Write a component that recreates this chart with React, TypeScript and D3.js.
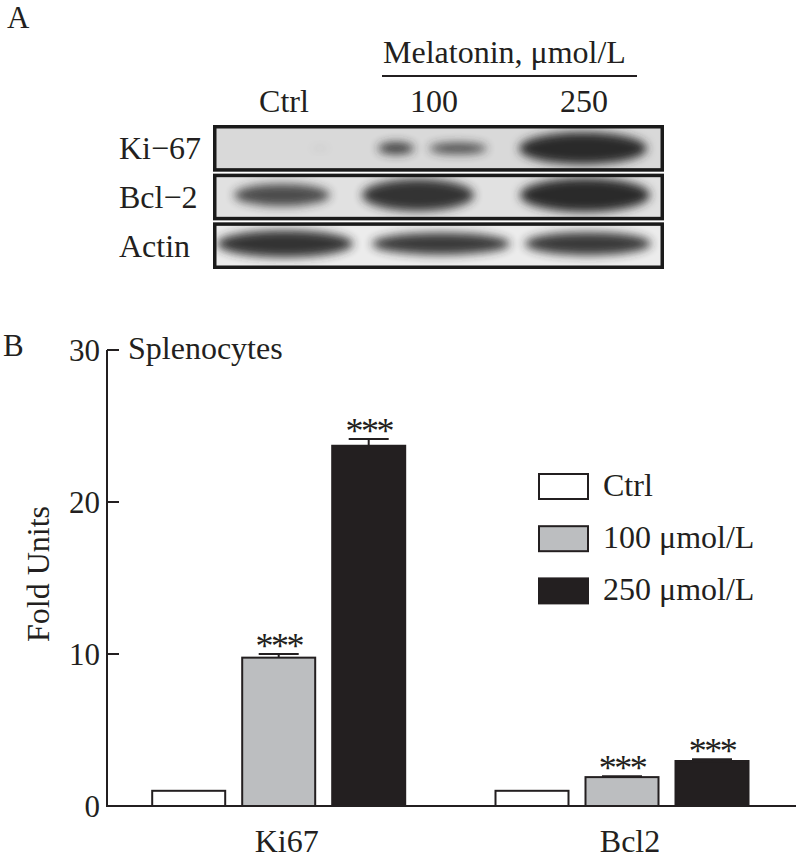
import React from "react";
import * as d3 from "d3";

// ---------- Panel B data ----------
const groups = ["Ki67", "Bcl2"];
const series = ["Ctrl", "100 μmol/L", "250 μmol/L"];
const ki67Values = [1.0, 9.76, 23.7];
const ki67Errors = [0, 0.24, 0.45];
const bcl2Values = [1.0, 1.9, 2.96];
const bcl2Errors = [0, 0.06, 0.11];
const significance = [
  ["", "***", "***"],
  ["", "***", "***"],
];
const yTicks = [0, 10, 20, 30];

// ---------- Panel A data ----------
const lanes = ["Ctrl", "100", "250"];
const blotRows = ["Ki−67", "Bcl−2", "Actin"];
// relative band intensities read from the blot (row, lane, dx, width, height, intensity)
const blotBands = [
  { row: "Ki−67", lane: "Ctrl", dx: 36, w: 18, h: 5, k: 0.08 },
  { row: "Ki−67", lane: "100", dx: -38, w: 36, h: 12, k: 0.9 },
  { row: "Ki−67", lane: "100", dx: 24, w: 58, h: 11, k: 0.82 },
  { row: "Ki−67", lane: "250", dx: -1, w: 128, h: 32, k: 1 },
  { row: "Bcl−2", lane: "Ctrl", dx: -2, w: 96, h: 22, k: 0.82 },
  { row: "Bcl−2", lane: "100", dx: -16, w: 112, h: 32, k: 0.95 },
  { row: "Bcl−2", lane: "250", dx: 1, w: 130, h: 34, k: 1 },
  { row: "Actin", lane: "Ctrl", dx: 1, w: 136, h: 27, k: 0.95 },
  { row: "Actin", lane: "100", dx: 7, w: 138, h: 22, k: 0.92 },
  { row: "Actin", lane: "250", dx: 4, w: 126, h: 23, k: 0.92 },
];
const rowBackgrounds = ["#d9d9d9", "#e1e1e1", "#ececec"];
const rowDy = [0, -2, -2];

const FONT = "'Liberation Serif', 'Times New Roman', serif";
const INK = "#231f20";
const seriesFill = ["#ffffff", "#bcbec0", "#231f20"];

export default function App() {
  // Panel B scales
  const y = d3.scaleLinear().domain([0, 30]).range([806, 350]);
  const x0 = d3.scalePoint<string>().domain(groups).range([278.7, 622]);
  const x1 = d3
    .scaleBand<string>()
    .domain(series)
    .range([-127.5, 127.5])
    .paddingInner(1 / 6);
  const values = [ki67Values, bcl2Values];
  const errors = [ki67Errors, bcl2Errors];

  // Panel A scales
  const laneX = d3.scalePoint<string>().domain(lanes).range([284, 584]);
  const rowY = d3.scaleBand<string>().domain(blotRows).range([125, 269]).paddingInner(2 / 48);
  const blotX0 = 213;
  const blotX1 = 664;

  return (
    <svg
      width={796}
      height={861}
      style={{ position: "absolute", left: 0, top: 0, background: "#fff" }}
      fontFamily={FONT}
    >
      <defs>
        <filter id="blur" x="-50%" y="-100%" width="200%" height="300%">
          <feGaussianBlur stdDeviation="5" />
        </filter>
        {blotRows.map((r, i) => (
          <clipPath id={`clip${i}`} key={r}>
            <rect
              x={blotX0 + 3}
              y={(rowY(r) as number) + 3}
              width={blotX1 - blotX0 - 6}
              height={rowY.bandwidth() - 6}
            />
          </clipPath>
        ))}
      </defs>

      {/* ---------- Panel A ---------- */}
      <text x={7} y={28} fontSize={31} fill={INK}>A</text>
      <text x={383} y={63} fontSize={32} fill={INK}>Melatonin, μmol/L</text>
      <line x1={382} x2={637} y1={76} y2={76} stroke={INK} strokeWidth={2.2} />
      {lanes.map((l) => (
        <text key={l} x={laneX(l)} y={112} fontSize={32} textAnchor="middle" fill={INK}>
          {l}
        </text>
      ))}
      {blotRows.map((r, i) => {
        const top = rowY(r) as number;
        const h = rowY.bandwidth();
        return (
          <g key={r}>
            <text x={119} y={top + h / 2 + 11} fontSize={32} fill={INK}>
              {r}
            </text>
            <rect x={blotX0} y={top} width={blotX1 - blotX0} height={h} fill={rowBackgrounds[i]} />
            <g clipPath={`url(#clip${i})`}>
              {blotBands
                .filter((b) => b.row === r)
                .map((b, j) => (
                  <ellipse
                    key={j}
                    cx={(laneX(b.lane) as number) + b.dx}
                    cy={top + h / 2 + rowDy[i]}
                    rx={b.w / 2}
                    ry={b.h / 2}
                    fill="#2b2b2b"
                    opacity={b.k}
                    filter="url(#blur)"
                  />
                ))}
            </g>
            <rect
              x={blotX0 + 1.75}
              y={top + 1.75}
              width={blotX1 - blotX0 - 3.5}
              height={h - 3.5}
              fill="none"
              stroke="#1a1a1a"
              strokeWidth={3.5}
            />
          </g>
        );
      })}

      {/* ---------- Panel B ---------- */}
      <text x={3} y={356} fontSize={31} fill={INK}>B</text>
      <text x={128} y={359} fontSize={32} fill={INK}>Splenocytes</text>
      <text
        transform="translate(49,574) rotate(-90)"
        fontSize={32}
        textAnchor="middle"
        fill={INK}
      >
        Fold Units
      </text>

      {/* bars */}
      {groups.map((g, gi) => (
        <g key={g} transform={`translate(${x0(g)},0)`}>
          {series.map((s, si) => {
            const v = values[gi][si];
            const e = errors[gi][si];
            const bx = x1(s) as number;
            const bw = x1.bandwidth();
            const cx = bx + bw / 2;
            return (
              <g key={s}>
                {e > 0 && (
                  <g stroke={INK} strokeWidth={2}>
                    <line x1={cx} x2={cx} y1={y(v)} y2={y(v + e)} />
                    <line x1={cx - 20} x2={cx + 20} y1={y(v + e)} y2={y(v + e)} />
                  </g>
                )}
                <rect
                  x={bx + 1}
                  y={y(v)}
                  width={bw - 2}
                  height={y(0) - y(v)}
                  fill={seriesFill[si]}
                  stroke={INK}
                  strokeWidth={2}
                />
                {significance[gi][si] && (
                  <text
                    x={cx}
                    y={y(v + e) + 4}
                    fontSize={36}
                    letterSpacing={-2.5}
                    textAnchor="middle"
                    fill={INK}
                  >
                    {significance[gi][si]}
                  </text>
                )}
              </g>
            );
          })}
          <text x={8} y={852} fontSize={32} textAnchor="middle" fill={INK}>
            {g}
          </text>
        </g>
      ))}

      {/* axes */}
      <line x1={107} x2={107} y1={y(30)} y2={y(0)} stroke={INK} strokeWidth={2} />
      <line x1={106} x2={796} y1={y(0)} y2={y(0)} stroke={INK} strokeWidth={2.2} />
      {yTicks.map((t) => (
        <g key={t}>
          <line x1={107} x2={119} y1={y(t)} y2={y(t)} stroke={INK} strokeWidth={2} />
          <text x={100} y={y(t) + 10.5} fontSize={31} textAnchor="end" fill={INK}>
            {t}
          </text>
        </g>
      ))}

      {/* legend */}
      {series.map((s, i) => (
        <g key={s} transform={`translate(538,${473 + i * 52.2})`}>
          <rect x={1} y={1} width={49} height={25} fill={seriesFill[i]} stroke={INK} strokeWidth={2} />
          <text x={65} y={23} fontSize={32} fill={INK}>
            {s}
          </text>
        </g>
      ))}
    </svg>
  );
}
